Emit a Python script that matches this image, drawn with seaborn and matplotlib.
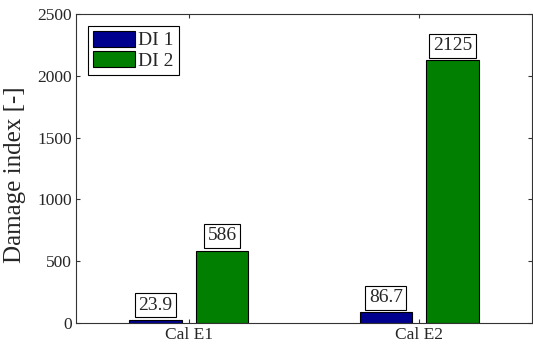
import matplotlib
matplotlib.use("Agg")
import matplotlib.pyplot as plt
import seaborn as sns
import pandas as pd

categories = ["Cal E1", "Cal E2"]
di1_values = [23.9, 86.7]
di2_values = [586, 2125]
series_names = ["DI 1", "DI 2"]
value_labels = [["23.9", "86.7"], ["586", "2125"]]
y_ticks = [0, 500, 1000, 1500, 2000, 2500]

sns.set_style("ticks")
plt.rcParams["font.family"] = ["Liberation Serif", "DejaVu Serif"]

df = pd.DataFrame({
    "case": categories * 2,
    "value": di1_values + di2_values,
    "index": [series_names[0]] * 2 + [series_names[1]] * 2,
})

fig = plt.figure(figsize=(5.33, 3.46), dpi=100)
ax = fig.add_axes([76 / 533, 1 - 323 / 346, (532 - 76) / 533, (323 - 14) / 346])

palette = {"DI 1": "#00008F", "DI 2": "#007F00"}
sns.barplot(data=df, x="case", y="value", hue="index", palette=palette,
            width=0.58, gap=0.22, edgecolor="black", linewidth=0.8,
            saturation=1, ax=ax, errorbar=None)

# boxed value annotations above each bar
for cont, labels in zip(ax.containers, value_labels):
    for bar, lab in zip(cont, labels):
        x = bar.get_x() + bar.get_width() / 2
        y = bar.get_height()
        ax.annotate(lab, (x, y), xytext=(0, 4.5), textcoords="offset points",
                    ha="center", va="bottom", fontsize=14,
                    bbox=dict(boxstyle="square,pad=0.18", fc="white",
                              ec="black", lw=0.8))

ax.set_xlim(-0.49, 1.49)
ax.set_ylim(0, 2500)
ax.set_yticks(y_ticks)
ax.set_xlabel("")
ax.set_ylabel("Damage index [-]", fontsize=18)
ax.yaxis.set_label_coords(-0.11, 0.48)
ax.tick_params(axis="both", direction="in", length=3, labelsize=12.5,
               top=True, right=True, color="#333333", pad=3)
for s in ax.spines.values():
    s.set_visible(True)
    s.set_color("#333333")
    s.set_linewidth(0.8)

leg = ax.legend(loc="upper left", fontsize=14, frameon=True, fancybox=False,
                edgecolor="black", framealpha=1, handlelength=2.2,
                handleheight=0.9, borderaxespad=0.6, handletextpad=0.15,
                labelspacing=0.08, borderpad=0.25)
leg.get_frame().set_linewidth(0.8)

fig.savefig("out.png", dpi=100)
